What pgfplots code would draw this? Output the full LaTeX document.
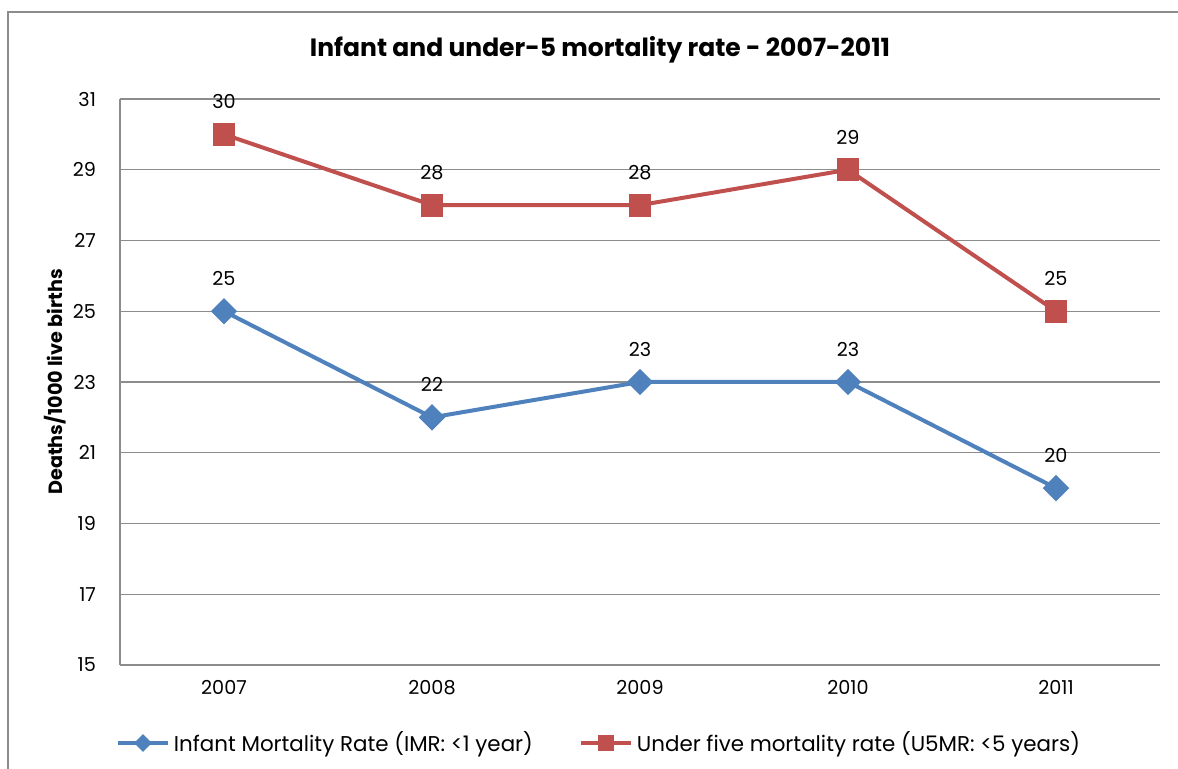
\documentclass[border=0pt]{standalone}
\usepackage{pgfplots}
\pgfplotsset{compat=1.18}
\usepackage{fontspec}
\setmainfont{Poppins}
\definecolor{imrblue}{HTML}{4F81BD}
\definecolor{ufmred}{HTML}{C0504D}
\definecolor{gridgray}{HTML}{8C8C8C}

\pgfplotstableread{
x year value
0 2007 25
1 2008 22
2 2009 23
3 2010 23
4 2011 20
}\imr
\pgfplotstableread{
x year value
0 2007 30
1 2008 28
2 2009 28
3 2010 29
4 2011 25
}\ufmr

\begin{document}
\begin{tikzpicture}
\useasboundingbox (0,0) rectangle (589pt,384.5pt);
\begin{scope}
\clip (0,0) rectangle (589pt,384.5pt);
\draw[gridgray, line width=0.8pt] (4pt,-10pt) rectangle (610pt,378.5pt);
\end{scope}
\node[font=\fontsize{12.5}{14}\selectfont\bfseries] at (300pt,359.5pt) {Infant and under-5 mortality rate - 2007-2011};
\begin{axis}[
  at={(60pt,52pt)}, anchor=south west,
  scale only axis, width=520pt, height=283pt,
  xmin=-0.5, xmax=4.5, ymin=15, ymax=31,
  xtick={0,1,2,3,4}, xticklabels={2007,2008,2009,2010,2011},
  ytick={15,17,...,31},
  ymajorgrids, grid style={gridgray, line width=0.7pt},
  axis x line*=bottom, axis y line*=left,
  axis line style={gridgray, line width=0.7pt, -},
  major tick length=0pt,
  tick label style={font=\fontsize{9.6}{11}\selectfont},
  /pgf/number format/assume math mode=true,
  xticklabel style={yshift=-4pt},
  yticklabel style={xshift=-8.5pt},
  ylabel={\bfseries Deaths/1000 live births},
  ylabel style={font=\fontsize{9.6}{11}\selectfont\bfseries, at={(axis description cs:0,0.5)}, yshift=23.5pt},
  legend style={at={(240pt,-39pt)}, anchor=center, draw=none, fill=none,
    font=\fontsize{10.7}{12}\selectfont, legend columns=2,
    /tikz/every even column/.append style={column sep=21pt}},
  legend cell align=left,
  legend image code/.code={
    \draw[#1, mark size=3pt, mark repeat=2, mark phase=2] plot coordinates {(0pt,0pt) (12.5pt,0pt) (25pt,0pt)};
  },
  nodes near coords,
  every node near coord/.append style={font=\fontsize{9.6}{11}\selectfont, black, yshift=8.5pt},
  clip=false,
]
\addplot[imrblue, line width=2pt, mark=diamond*, mark size=5.2pt, mark options={solid, xscale=1.33}] table[x=x, y=value] {\imr};
\addlegendentry{Infant Mortality Rate (IMR: <1 year)}
\addplot[ufmred, line width=2pt, mark=square*, mark size=4.7pt, mark options={solid}] table[x=x, y=value] {\ufmr};
\addlegendentry{Under five mortality rate (U5MR: <5 years)}
\end{axis}
\end{tikzpicture}
\end{document}
